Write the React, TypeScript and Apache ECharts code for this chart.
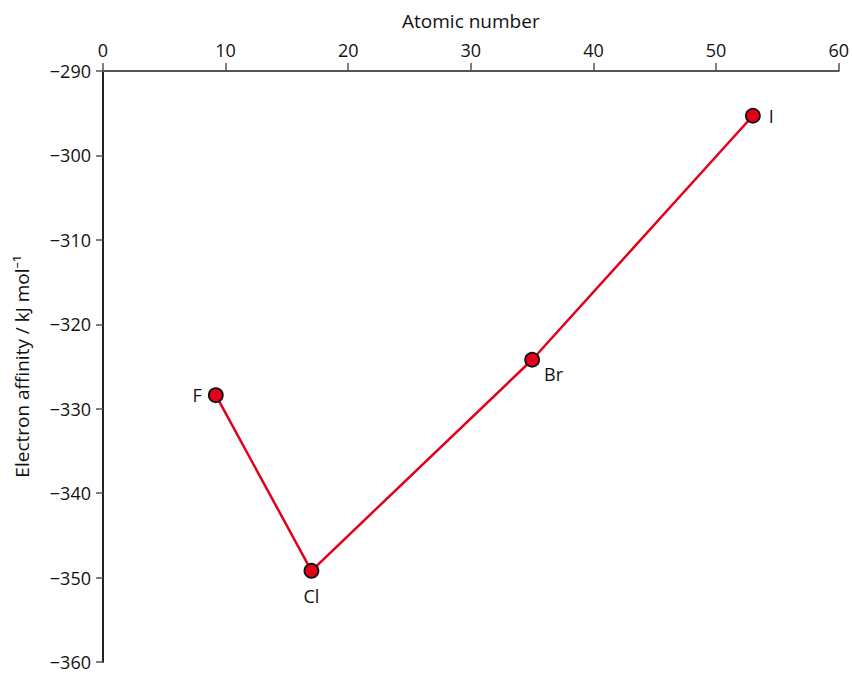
import React, { useEffect, useRef } from "react";
import * as echarts from "echarts";

const elements = ["F", "Cl", "Br", "I"];
const atomicNumbers = [9.2, 17, 35, 53];
const affinities = [-328.4, -349.2, -324.2, -295.3];
const labelPositions = ["left", "bottom", "right", "right"];
const labelOffsets = [[0, 0], [0, 2], [-2, 14], [2, 0]];

const FONT = "'Open Sans', 'Noto Sans', sans-serif";

export default function App() {
  const ref = useRef<HTMLDivElement>(null);
  useEffect(() => {
    if (!ref.current) return;
    const chart = echarts.init(ref.current, undefined, { renderer: "svg" });
    const minus = (v: number) => String(v).replace("-", "\u2212");
    chart.setOption({
      animation: false,
      backgroundColor: "#ffffff",
      textStyle: { fontFamily: FONT },
      grid: { left: 103, right: 12, top: 71, bottom: 12 },
      xAxis: {
        type: "value",
        position: "top",
        min: 0,
        max: 60,
        interval: 10,
        name: "Atomic number",
        nameLocation: "middle",
        nameGap: 41,
        nameTextStyle: { fontFamily: FONT, fontSize: 19, color: "#111" },
        axisLine: { show: true, onZero: false, lineStyle: { color: "#555", width: 2 } },
        axisTick: { show: true, inside: false, length: 8, lineStyle: { color: "#555", width: 1.5 } },
        axisLabel: { fontFamily: FONT, fontSize: 18, color: "#111", margin: 12, formatter: minus },
        splitLine: { show: false },
      },
      yAxis: {
        type: "value",
        min: -360,
        max: -290,
        interval: 10,
        name: "Electron affinity / kJ mol\u207B\u00B9",
        nameLocation: "middle",
        nameGap: 72,
        nameRotate: 90,
        nameTextStyle: { fontFamily: FONT, fontSize: 19, color: "#111" },
        axisLine: { show: true, onZero: false, lineStyle: { color: "#222", width: 2 } },
        axisTick: { show: true, inside: false, length: 7, lineStyle: { color: "#555", width: 1.5 } },
        axisLabel: {
          fontFamily: FONT,
          fontSize: 18,
          lineHeight: 16,
          color: "#111",
          margin: 12,
          formatter: minus,
        },
        splitLine: { show: false },
      },
      series: [
        {
          type: "line",
          data: atomicNumbers.map((x, i) => ({
            value: [x, affinities[i]],
            name: elements[i],
            label: {
              show: true,
              position: labelPositions[i],
              offset: labelOffsets[i],
              formatter: elements[i],
            },
          })),
          lineStyle: { color: "#e2001a", width: 2.5 },
          symbol: "circle",
          symbolSize: 14,
          itemStyle: { color: "#e2001a", borderColor: "#111", borderWidth: 1.8 },
          label: { fontFamily: FONT, fontSize: 18, color: "#111", distance: 6 },
        },
      ],
    });
    return () => chart.dispose();
  }, []);
  return (
    <div
      ref={ref}
      style={{ position: "absolute", left: 0, top: 0, width: 852, height: 674 }}
    />
  );
}
